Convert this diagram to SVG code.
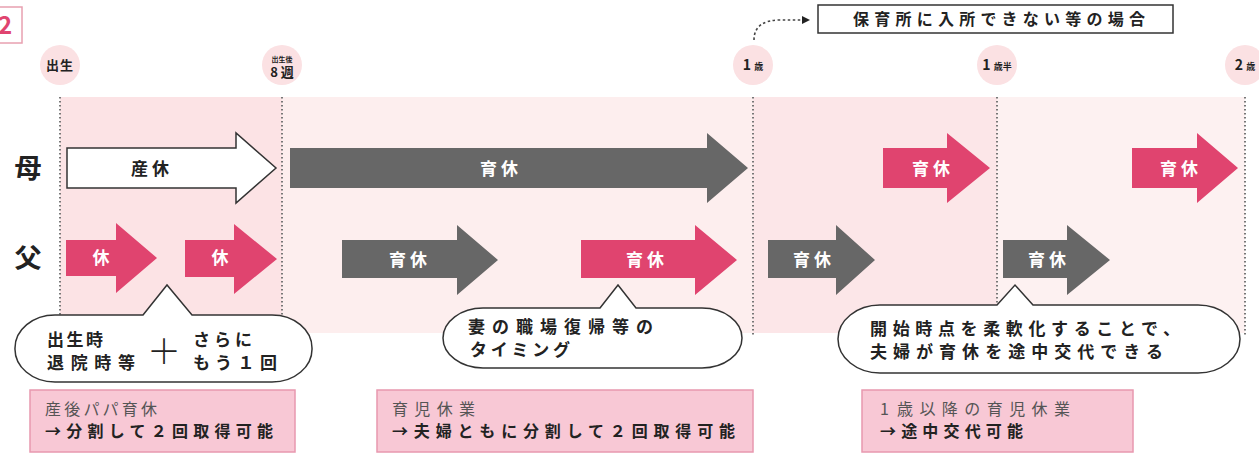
<svg xmlns="http://www.w3.org/2000/svg" width="1259" height="455" viewBox="0 0 1259 455">
<defs>
<style>
text{font-family:"Noto Sans CJK JP","Noto Sans",sans-serif;fill:#222}
.b{font-weight:700}
.w{fill:#fff;font-weight:700;font-size:17px}
.pk{fill:#e0446f}
.gy{fill:#676767}
.dot{stroke:#777;stroke-width:2;stroke-dasharray:1.6 2.4;fill:none}
.circ{fill:#fbe1e3}
.bub{fill:#fff;stroke:#333;stroke-width:1.5}
.note{fill:#f8c8d5;stroke:#e898af;stroke-width:1.5}
.ttl{font-size:16px;fill:#555}
.nb{font-size:16px;font-weight:700}
.bt{font-size:17px;font-weight:700}
</style>
<marker id="ah" markerWidth="8" markerHeight="8" refX="6" refY="4" orient="auto" markerUnits="userSpaceOnUse">
<path d="M0,0 L8,4 L0,8 Z" fill="#222"/>
</marker>
</defs>
<rect width="1259" height="455" fill="#fff"/>

<!-- top-left number -->
<g id="fig-no">
<rect x="-10" y="7" width="32" height="36" fill="#fff" stroke="#e8a0b0" stroke-width="1.5"/>
<text x="-2" y="34" font-size="24" font-weight="700" style="fill:#e0446f">2</text>
</g>

<!-- background bands -->
<g id="bands">
<rect x="60" y="97" width="222" height="219" fill="#fce3e5"/>
<rect x="282" y="97" width="471" height="236" fill="#fdeeee"/>
<rect x="753" y="97" width="244" height="236" fill="#fce6e8"/>
<rect x="997" y="97" width="248" height="236" fill="#fdf1f1"/>
</g>

<!-- timeline markers -->
<g id="m-birth">
<circle class="circ" cx="60" cy="65" r="20"/>
<text x="60" y="70" font-size="13" class="b" text-anchor="middle" letter-spacing="1">出生</text>
</g>
<g id="m-8w">
<circle class="circ" cx="282" cy="65" r="20"/>
<text x="282" y="62" font-size="7" class="b" text-anchor="middle">出生後</text>
<text x="282" y="77" font-size="13" class="b" text-anchor="middle">8 週</text>
</g>
<g id="m-1y">
<circle class="circ" cx="753" cy="65" r="20"/>
<text x="753" y="70" font-size="14" class="b" text-anchor="middle">1 <tspan font-size="9">歳</tspan></text>
</g>
<g id="m-15y">
<circle class="circ" cx="997" cy="65" r="20"/>
<text x="997" y="70" font-size="14" class="b" text-anchor="middle">1 <tspan font-size="9">歳半</tspan></text>
</g>
<g id="m-2y">
<circle class="circ" cx="1245" cy="65" r="20"/>
<text x="1245" y="70" font-size="14" class="b" text-anchor="middle">2 <tspan font-size="9">歳</tspan></text>
</g>

<g id="note-top">
<rect x="818" y="5" width="355" height="28" fill="#fff" stroke="#333" stroke-width="1.5"/>
<text x="853" y="25" font-size="16" class="b" textLength="292" lengthAdjust="spacing">保育所に入所できない等の場合</text>
</g>

<!-- connectors -->
<g id="connectors">
<line class="dot" x1="60" y1="97" x2="60" y2="316"/>
<line class="dot" x1="282" y1="97" x2="282" y2="316"/>
<line class="dot" x1="753" y1="97" x2="753" y2="335"/>
<line class="dot" x1="997" y1="97" x2="997" y2="335"/>
<line class="dot" x1="1245" y1="97" x2="1245" y2="335"/>
<path d="M754,40 C754,26 764,20 780,20 L808,20" fill="none" stroke="#444" stroke-width="1.6" stroke-dasharray="2.5 2.5" marker-end="url(#ah)"/>
</g>

<!-- row labels -->
<g id="lbl-mother"><text x="28" y="178" font-size="27" class="b" text-anchor="middle">母</text></g>
<g id="lbl-father"><text x="28" y="268" font-size="27" class="b" text-anchor="middle">父</text></g>

<!-- mother arrows -->
<g id="m-sankyu">
<polygon points="67,148 236,148 236,133 276,168 236,203 236,188 67,188" fill="#fff" stroke="#333" stroke-width="1.5"/>
<text x="152" y="175" font-size="17" class="b" text-anchor="middle" letter-spacing="4">産休</text>
</g>
<g id="m-ikukyu1">
<polygon class="gy" points="290,148 707,148 707,133 748,168 707,203 707,188 290,188"/>
<text class="w" x="501" y="175" text-anchor="middle" letter-spacing="4">育休</text>
</g>
<g id="m-ikukyu2">
<polygon class="pk" points="883,148 947,148 947,133 990,168 947,203 947,188 883,188"/>
<text class="w" x="933" y="175" text-anchor="middle" letter-spacing="4">育休</text>
</g>
<g id="m-ikukyu3">
<polygon class="pk" points="1132,148 1197,148 1197,133 1238,168 1197,203 1197,188 1132,188"/>
<text class="w" x="1181" y="175" text-anchor="middle" letter-spacing="4">育休</text>
</g>

<!-- father arrows -->
<g id="f-kyu1">
<polygon class="pk" points="66,240 116,240 116,223 157,258 116,293 116,276 66,276"/>
<text class="w" x="101" y="264" text-anchor="middle">休</text>
</g>
<g id="f-kyu2">
<polygon class="pk" points="185,240 234,240 234,224 277,259 234,294 234,277 185,277"/>
<text class="w" x="220" y="264" text-anchor="middle">休</text>
</g>
<g id="f-ikukyu1">
<polygon class="gy" points="342,240 457,240 457,225 498,260 457,295 457,278 342,278"/>
<text class="w" x="410" y="266" text-anchor="middle" letter-spacing="4">育休</text>
</g>
<g id="f-ikukyu2">
<polygon class="pk" points="581,240 695,240 695,225 737,260 695,295 695,278 581,278"/>
<text class="w" x="647" y="266" text-anchor="middle" letter-spacing="4">育休</text>
</g>
<g id="f-ikukyu3">
<polygon class="gy" points="768,240 836,240 836,225 875,260 836,295 836,278 768,278"/>
<text class="w" x="814" y="266" text-anchor="middle" letter-spacing="4">育休</text>
</g>
<g id="f-ikukyu4">
<polygon class="gy" points="1003,240 1067,240 1067,225 1110,260 1067,295 1067,278 1003,278"/>
<text class="w" x="1049" y="266" text-anchor="middle" letter-spacing="4">育休</text>
</g>

<!-- bubbles -->
<g id="bubble-1">
<path class="bub" d="M143,315 L167,285 L192,315 L272,315 A40,33 0 0 1 312,348 A40,33 0 0 1 272,382 L55,382 A40,33 0 0 1 15,348 A40,33 0 0 1 55,315 Z"/>
<text class="bt" x="47" y="346" textLength="56" lengthAdjust="spacing">出生時</text>
<text class="bt" x="47" y="369" textLength="88" lengthAdjust="spacing">退院時等</text>
<text x="164" y="364" font-size="34" font-weight="300" text-anchor="middle">＋</text>
<text class="bt" x="193" y="346" textLength="59" lengthAdjust="spacing">さらに</text>
<text class="bt" x="193" y="369" textLength="84" lengthAdjust="spacing">もう１回</text>
</g>
<g id="bubble-2">
<path class="bub" d="M600,308 L618,285 L636,308 L702,308 A40,30 0 0 1 742,338 A40,30 0 0 1 702,368 L483,368 A40,30 0 0 1 443,338 A40,30 0 0 1 483,308 Z"/>
<text class="bt" x="468" y="333" textLength="185" lengthAdjust="spacing">妻の職場復帰等の</text>
<text class="bt" x="470" y="356" textLength="100" lengthAdjust="spacing">タイミング</text>
</g>
<g id="bubble-3">
<path class="bub" d="M997,305 L1015,285 L1033,305 L1198,305 A42,34 0 0 1 1240,339 A42,34 0 0 1 1198,373 L880,373 A42,34 0 0 1 838,339 A42,34 0 0 1 880,305 Z"/>
<text class="bt" x="870" y="335" textLength="310" lengthAdjust="spacing">開始時点を柔軟化することで、</text>
<text class="bt" x="870" y="358" textLength="293" lengthAdjust="spacing">夫婦が育休を途中交代できる</text>
</g>

<!-- notes -->
<g id="note-1">
<rect class="note" x="30" y="390" width="265" height="62"/>
<text class="ttl" x="45" y="415" textLength="112" lengthAdjust="spacing">産後パパ育休</text>
<text class="nb" x="45" y="437" textLength="228" lengthAdjust="spacing">→分割して２回取得可能</text>
</g>
<g id="note-2">
<rect class="note" x="377" y="390" width="376" height="62"/>
<text class="ttl" x="392" y="415" textLength="83" lengthAdjust="spacing">育児休業</text>
<text class="nb" x="392" y="437" textLength="343" lengthAdjust="spacing">→夫婦ともに分割して２回取得可能</text>
</g>
<g id="note-3">
<rect class="note" x="862" y="390" width="271" height="62"/>
<text class="ttl" x="880" y="415">1 <tspan x="897" textLength="173" lengthAdjust="spacing">歳以降の育児休業</tspan></text>
<text class="nb" x="880" y="437" textLength="143" lengthAdjust="spacing">→途中交代可能</text>
</g>
</svg>
